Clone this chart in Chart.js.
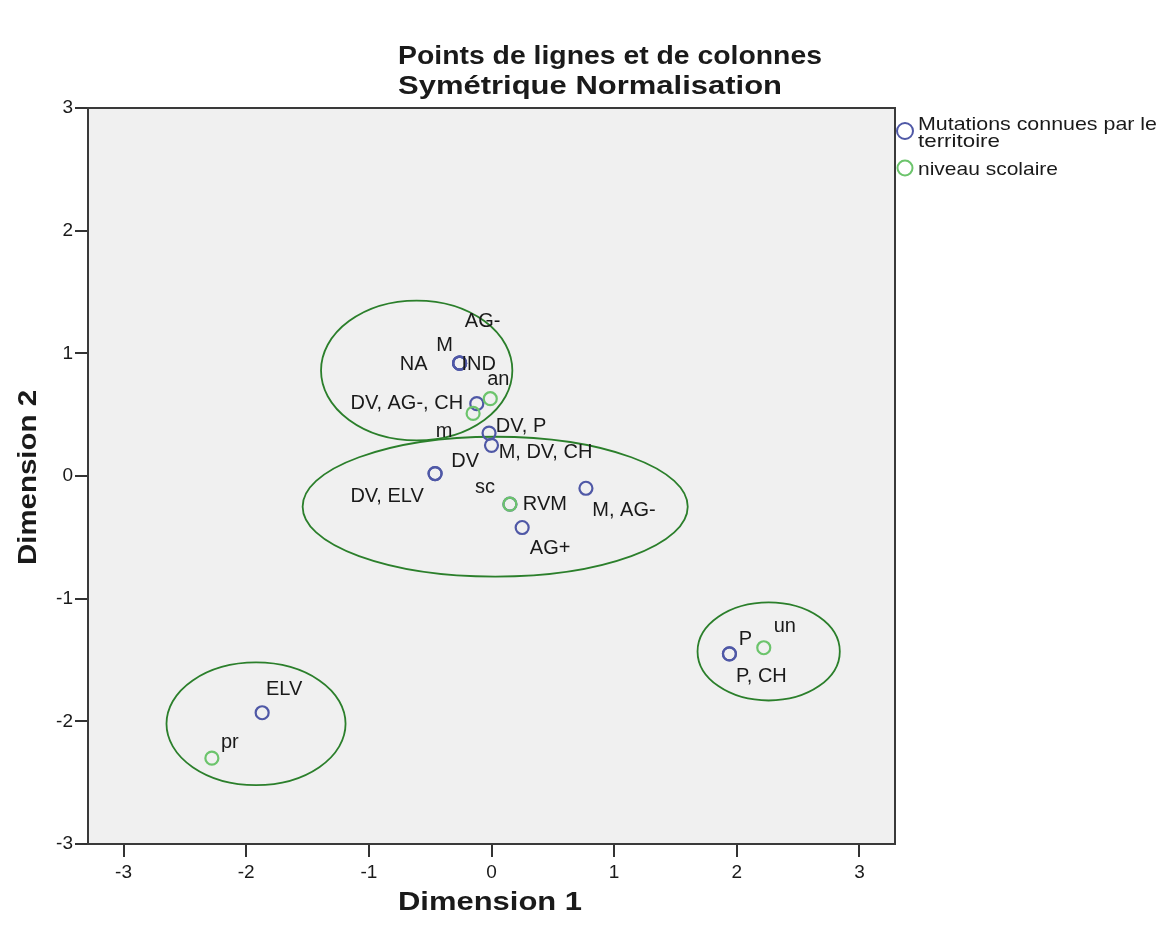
<!DOCTYPE html>
<html>
<head>
<meta charset="utf-8">
<script src="https://cdn.jsdelivr.net/npm/chart.js@4.4.1/dist/chart.umd.min.js"></script>
<style>
  html, body { margin: 0; padding: 0; background: #ffffff; }
  #wrap { width: 1165px; height: 928px; position: relative; }
</style>
</head>
<body>
<div id="wrap"><canvas id="c" width="1165" height="928"></canvas></div>
<script>
// ---- DATA ----
const titleLines = ["Points de lignes et de colonnes", "Symétrique Normalisation"];
const xAxisTitle = "Dimension 1";
const yAxisTitle = "Dimension 2";
const seriesNames = ["Mutations connues par le territoire", "niveau scolaire"];
const tickValues = [-3, -2, -1, 0, 1, 2, 3];

const mutLabels = ["M", "NA", "IND", "AG-", "DV, AG-, CH", "DV, P", "M, DV, CH", "DV", "DV, ELV", "RVM", "M, AG-", "AG+", "P", "P, CH", "ELV"];
const mutX = [-0.26, -0.26, -0.26, -0.26, -0.12, -0.02, 0.00, -0.46, -0.46, 0.15, 0.77, 0.25, 1.94, 1.94, -1.87];
const mutY = [0.92, 0.92, 0.92, 0.92, 0.59, 0.35, 0.25, 0.02, 0.02, -0.23, -0.10, -0.42, -1.45, -1.45, -1.93];

const eduLabels = ["an", "m", "sc", "un", "pr"];
const eduX = [-0.01, -0.15, 0.15, 2.22, -2.28];
const eduY = [0.63, 0.51, -0.23, -1.40, -2.30];

// group ellipses (data units): centre x, centre y, radius x, radius y
const ellipseCX = [-0.61, 0.03, 2.26, -1.92];
const ellipseCY = [0.86, -0.25, -1.43, -2.02];
const ellipseRX = [0.78, 1.57, 0.58, 0.73];
const ellipseRY = [0.57, 0.57, 0.40, 0.50];

// ---- STYLE / LAYOUT ----
const FONT = '"Liberation Sans", Arial, sans-serif';
const BLUE = '#4f58a6';
const GREEN = '#6cc46c';
const ELLIPSE = '#2b7f2b';
const TEXT = '#1a1a1a';
// label placement relative to its point (pixels, text centre)
const labelOffset = {
  "M": [-15, -18], "NA": [-46, 1], "IND": [19, 1], "AG-": [23, -42],
  "DV, AG-, CH": [-70, 0], "DV, P": [32, -7], "M, DV, CH": [54, 7],
  "DV": [30, -12], "DV, ELV": [-48, 23], "RVM": [35, 0], "M, AG-": [38, 22],
  "AG+": [28, 21], "P": [16, -14], "P, CH": [32, 23], "ELV": [22, -23],
  "an": [8, -19], "m": [-29, 18], "sc": [-25, -17], "un": [21, -21], "pr": [18, -16]
};

const toPts = (xs, ys, ls) => xs.map((x, i) => ({ x: x, y: ys[i], label: ls[i] }));

// draw text horizontally stretched to a given width, left aligned at x
function fitText(ctx, txt, x, y, w) {
  const m = ctx.measureText(txt).width;
  ctx.save();
  ctx.translate(x, y);
  ctx.scale(w / m, 1);
  ctx.textAlign = 'left';
  ctx.fillText(txt, 0, 0);
  ctx.restore();
}

const decorPlugin = {
  id: 'decor',
  beforeDraw(chart) {
    const { ctx, chartArea: a } = chart;
    ctx.save();
    ctx.fillStyle = '#f0f0f0';
    ctx.fillRect(a.left, a.top, a.right - a.left, a.bottom - a.top);
    ctx.restore();
  },
  beforeDatasetsDraw(chart) {
    const { ctx, scales: { x, y } } = chart;
    ctx.save();
    ctx.strokeStyle = ELLIPSE;
    ctx.lineWidth = 1.8;
    for (let i = 0; i < ellipseCX.length; i++) {
      const cx = x.getPixelForValue(ellipseCX[i]);
      const cy = y.getPixelForValue(ellipseCY[i]);
      const rx = Math.abs(x.getPixelForValue(ellipseCX[i] + ellipseRX[i]) - cx);
      const ry = Math.abs(y.getPixelForValue(ellipseCY[i] + ellipseRY[i]) - cy);
      ctx.beginPath();
      ctx.ellipse(cx, cy, rx, ry, 0, 0, Math.PI * 2);
      ctx.stroke();
    }
    ctx.restore();
  },
  afterDraw(chart) {
    const { ctx, chartArea: a } = chart;
    ctx.save();
    // frame
    ctx.strokeStyle = '#3a3a3a';
    ctx.lineWidth = 2;
    ctx.strokeRect(a.left, a.top, a.right - a.left, a.bottom - a.top);

    // point labels
    ctx.fillStyle = TEXT;
    ctx.font = '20px ' + FONT;
    ctx.textAlign = 'center';
    ctx.textBaseline = 'middle';
    chart.data.datasets.forEach((ds, di) => {
      const meta = chart.getDatasetMeta(di);
      meta.data.forEach((el, i) => {
        const lab = ds.data[i].label;
        const off = labelOffset[lab] || [0, -16];
        ctx.fillText(lab, el.x + off[0], el.y + off[1]);
      });
    });

    // titles
    ctx.font = 'bold 25px ' + FONT;
    fitText(ctx, titleLines[0], 398, 57, 424);
    fitText(ctx, titleLines[1], 398, 87, 384);

    // axis titles
    ctx.font = 'bold 25px ' + FONT;
    fitText(ctx, xAxisTitle, 398, 903, 184);
    ctx.save();
    ctx.translate(29, 565);
    ctx.rotate(-Math.PI / 2);
    fitText(ctx, yAxisTitle, 0, 0, 175);
    ctx.restore();

    // legend
    ctx.lineWidth = 2;
    ctx.strokeStyle = BLUE;
    ctx.beginPath(); ctx.arc(905, 131, 8, 0, Math.PI * 2); ctx.stroke();
    ctx.strokeStyle = GREEN;
    ctx.beginPath(); ctx.arc(905, 168, 7.5, 0, Math.PI * 2); ctx.stroke();
    ctx.font = '19px ' + FONT;
    ctx.fillStyle = TEXT;
    fitText(ctx, "Mutations connues par le", 918, 125, 239);
    fitText(ctx, "territoire", 918, 142, 82);
    fitText(ctx, seriesNames[1], 918, 170, 140);
    ctx.restore();
  }
};

new Chart(document.getElementById('c'), {
  type: 'scatter',
  data: {
    datasets: [
      {
        label: seriesNames[0],
        data: toPts(mutX, mutY, mutLabels),
        pointStyle: 'circle',
        pointRadius: 6.5,
        pointBorderWidth: 2.2,
        borderColor: BLUE,
        backgroundColor: 'rgba(0,0,0,0)',
        pointHoverRadius: 6.5,
        order: 2
      },
      {
        label: seriesNames[1],
        data: toPts(eduX, eduY, eduLabels),
        pointStyle: 'circle',
        pointRadius: 6.5,
        pointBorderWidth: 2.2,
        borderColor: GREEN,
        backgroundColor: 'rgba(0,0,0,0)',
        pointHoverRadius: 6.5,
        order: 1
      }
    ]
  },
  options: {
    responsive: false,
    animation: false,
    events: [],
    layout: { padding: { top: 108, right: 270, bottom: 44, left: 0 } },
    plugins: { legend: { display: false }, title: { display: false }, tooltip: { enabled: false } },
    scales: {
      x: {
        type: 'linear',
        min: -3.29, max: 3.29,
        afterFit(s) { s.height = 40; },
        afterBuildTicks(s) { s.ticks = tickValues.map(v => ({ value: v })); },
        ticks: { stepSize: 1, includeBounds: false, color: TEXT, font: { size: 19, family: FONT }, padding: 4 },
        grid: { display: true, drawOnChartArea: false, drawTicks: true, tickLength: 13, color: '#333', lineWidth: 2 },
        border: { display: false }
      },
      y: {
        type: 'linear',
        min: -3, max: 3,
        afterFit(s) { s.width = 88; },
        afterBuildTicks(s) { s.ticks = tickValues.map(v => ({ value: v })); },
        ticks: { stepSize: 1, includeBounds: false, color: TEXT, font: { size: 19, family: FONT }, padding: 2 },
        grid: { display: true, drawOnChartArea: false, drawTicks: true, tickLength: 13, color: '#333', lineWidth: 2 },
        border: { display: false }
      }
    }
  },
  plugins: [decorPlugin]
});
</script>
</body>
</html>
